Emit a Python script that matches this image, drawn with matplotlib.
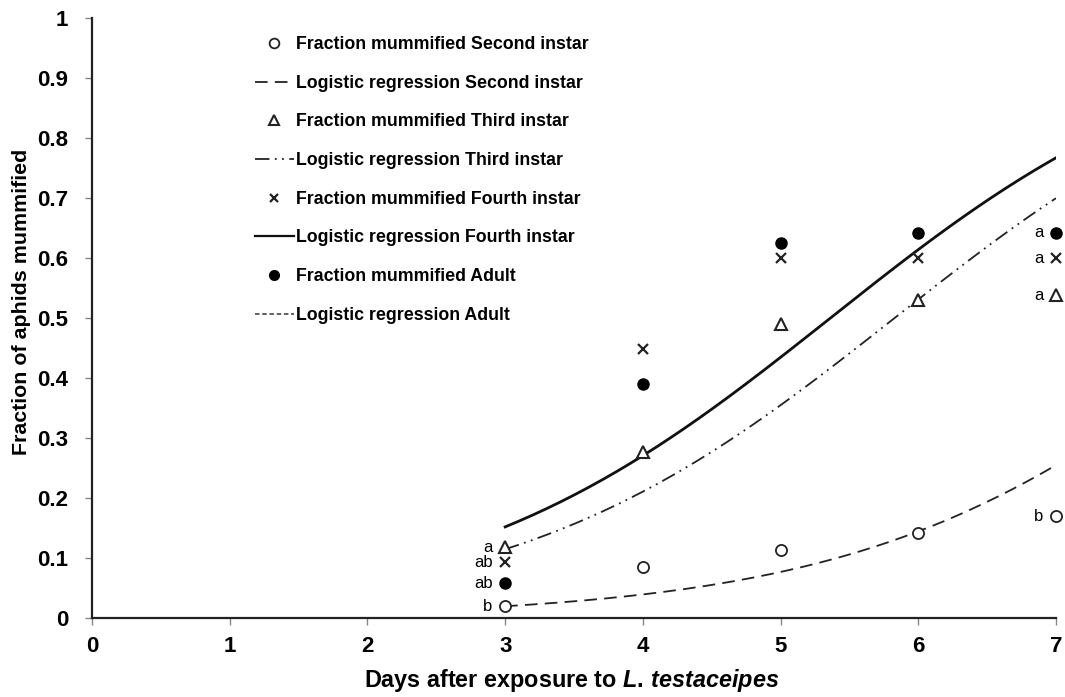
import matplotlib.pyplot as plt
import numpy as np
from matplotlib.lines import Line2D

plt.rcParams['font.family'] = ['Liberation Sans', 'DejaVu Sans']
plt.rcParams['font.weight'] = 'bold'
plt.rcParams['axes.labelweight'] = 'bold'
plt.rcParams['mathtext.fontset'] = 'custom'
plt.rcParams['mathtext.rm'] = 'Liberation Sans:bold'
plt.rcParams['mathtext.it'] = 'Liberation Sans:italic:bold'

# observed fraction mummified per day
days = [3, 4, 5, 6, 7]
second = [0.020, 0.085, 0.113, 0.142, 0.170]
third = [0.118, 0.277, 0.490, 0.530, 0.538]
fourth = [0.093, 0.448, 0.600, 0.600, 0.600]
adult = [0.058, 0.390, 0.625, 0.642, 0.642]

# fitted logistic regression coefficients (intercept, slope)
coef_second = [-6.007, 0.705]
coef_third = [-4.207, 0.722]
coef_fourth = [-3.900, 0.7275]

# letters for pairwise comparisons on day 3 and day 7
letters_day3 = ['a', 'ab', 'ab', 'b']
letters_day7 = ['a', 'a', 'a', 'b']


def logistic(x, coef):
    return 1.0 / (1.0 + np.exp(-(coef[0] + coef[1] * x)))


xs = np.linspace(3, 7, 200)

fig, ax = plt.subplots(figsize=(10.65, 6.97), dpi=100)
fig.subplots_adjust(left=0.0864, right=0.9915, top=0.974, bottom=0.113)

ax.plot(xs, logistic(xs, coef_second), color='#222222', lw=1.3,
        ls=(0, (7, 4)))
ax.plot(xs, logistic(xs, coef_third), color='#222222', lw=1.3,
        ls=(0, (8, 3, 1, 3, 1, 3)))
ax.plot(xs, logistic(xs, coef_fourth), color='#111111', lw=2.0)

ms = 8
ax.plot(days, second, 'o', mfc='white', mec='#222222', mew=1.3, ms=ms,
        ls='none', clip_on=False)
ax.plot(days, third, '^', mfc='white', mec='#222222', mew=1.5, ms=ms,
        ls='none', clip_on=False)
ax.plot(days, fourth, 'x', color='#222222', mew=1.6, ms=7, ls='none',
        clip_on=False)
ax.plot(days, adult, 'o', color='black', ms=ms, ls='none', clip_on=False)

# significance letters next to the day 3 and day 7 points
order3 = [third[0], fourth[0], adult[0], second[0]]
for lab, y in zip(letters_day3, order3):
    ax.annotate(lab, (3, y), xytext=(-9, 0), textcoords='offset points',
                ha='right', va='center', fontsize=12, fontweight='normal')
order7 = [adult[4], fourth[4], third[4], second[4]]
for lab, y in zip(letters_day7, order7):
    ax.annotate(lab, (7, y), xytext=(-9, 0), textcoords='offset points',
                ha='right', va='center', fontsize=12, fontweight='normal')

ax.set_xlim(0, 7)
ax.set_ylim(0, 1)
ax.set_xticks(range(0, 8))
ax.set_yticks(np.round(np.arange(0, 1.01, 0.1), 1))
ax.set_yticklabels(['0'] + ['%.1f' % v for v in np.arange(0.1, 0.95, 0.1)] + ['1'])
ax.tick_params(direction='out', length=5, width=1, color='#888888',
               labelsize=16, pad=8)
ax.tick_params(axis='y', pad=12)
for side in ['top', 'right']:
    ax.spines[side].set_visible(False)
for side in ['left', 'bottom']:
    ax.spines[side].set_linewidth(1.6)
    ax.spines[side].set_color('#222222')

ax.set_xlabel('Days after exposure to $\\mathit{L.\\,testaceipes}$',
              fontsize=16.8, fontweight='bold')
ax.set_ylabel('Fraction of aphids mummified', fontsize=15.4,
              fontweight='bold')
ax.xaxis.set_label_coords(0.498, -0.082)
ax.yaxis.set_label_coords(-0.063, 0.527)

handles = [
    Line2D([], [], marker='o', ls='none', mfc='white', mec='#222222', mew=1.3, ms=7),
    Line2D([], [], color='#222222', lw=1.3, ls=(0, (7, 4))),
    Line2D([], [], marker='^', ls='none', mfc='white', mec='#222222', mew=1.5, ms=7),
    Line2D([], [], color='#222222', lw=1.3, ls=(0, (8, 3, 1, 3, 1, 3))),
    Line2D([], [], marker='x', ls='none', color='#222222', mew=1.6, ms=6),
    Line2D([], [], color='#111111', lw=1.6),
    Line2D([], [], marker='o', ls='none', color='black', ms=7),
    Line2D([], [], color='#555555', lw=1.3, ls=(0, (2.5, 1.5))),
]
labels = [
    'Fraction mummified Second instar',
    'Logistic regression Second instar',
    'Fraction mummified Third instar',
    'Logistic regression Third instar',
    'Fraction mummified Fourth instar',
    'Logistic regression Fourth instar',
    'Fraction mummified Adult',
    'Logistic regression Adult',
]
ax.legend(handles, labels, loc='upper left', bbox_to_anchor=(0.162, 0.982),
          frameon=False, fontsize=12.8, handlelength=2.15, handletextpad=0.15,
          labelspacing=1.22, borderaxespad=0)

fig.savefig('out.png', dpi=100)
